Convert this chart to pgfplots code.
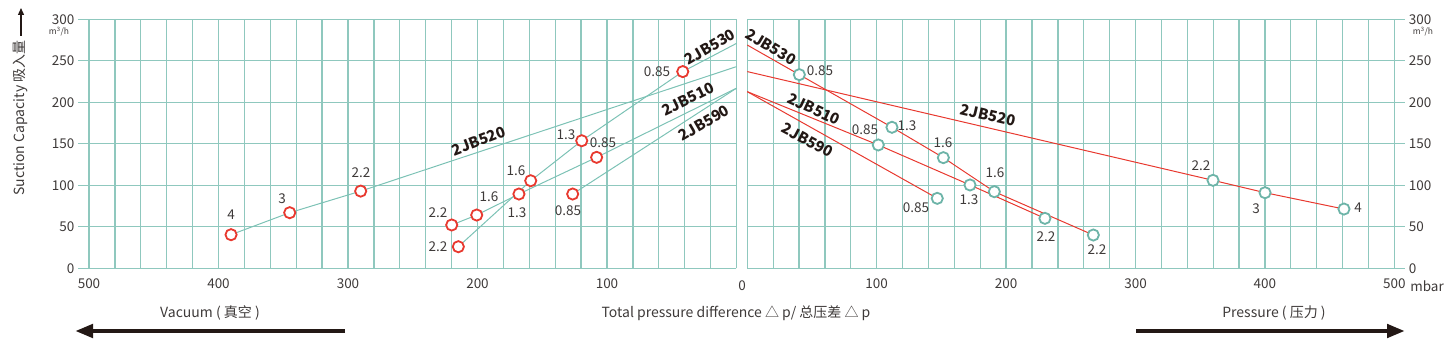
\documentclass[border=0pt]{standalone}
\usepackage{pgfplots}
\pgfplotsset{compat=1.18}
\usepackage{fontspec}
\setmainfont{Noto Sans CJK SC}
\usetikzlibrary{arrows.meta}
\definecolor{gridc}{HTML}{8FC8BE}
\definecolor{tealL}{HTML}{7CC2B5}
\definecolor{tealM}{HTML}{6DB4A8}
\definecolor{redL}{HTML}{E8392F}
\definecolor{txt}{HTML}{3E3A39}
\definecolor{dark}{HTML}{231815}
\pgfplotsset{
  panel/.style={
    scale only axis, height=249pt,
    xmin=0, xmax=508.5, ymin=0, ymax=300,
    axis line style={draw=none},
    xtick={0,100,...,500},
    minor xtick={20,40,60,80,120,140,160,180,220,240,260,280,320,340,360,380,420,440,460,480},
    ytick={0,50,100,150,200,250,300},
    yticklabels={0,50,100,150,200,250,300},
    xticklabels={,100,200,300,400,500},
    grid=both,
    major grid style={gridc, line width=1.25pt},
    minor grid style={gridc, line width=1.25pt},
    tick style={draw=none},
    major tick length=0pt, minor tick length=0pt,
    /pgf/number format/assume math mode=true,
    ticklabel style={font=\fontsize{13.5}{15}\selectfont, text=txt},
    xticklabel style={yshift=-7pt},
    clip=false,
  },
  lline/.style={tealL, line width=1pt, no markers},
  rline/.style={redL, line width=1pt, no markers},
  lmark/.style={only marks, mark=*, mark size=5.6pt, mark options={draw=redL, fill=white, line width=1.8pt}},
  rmark/.style={only marks, mark=*, mark size=5.6pt, mark options={draw=tealM, fill=white, line width=1.8pt}},
}
\tikzset{
  lbl/.style={font=\fontsize{13.5}{15}\selectfont, text=txt, inner sep=0pt},
  model/.style={font=\bfseries\fontsize{15}{17}\selectfont, text=dark, inner sep=0pt},
  ttl/.style={font=\fontsize{14}{16}\selectfont, text=txt, inner sep=0pt},
}
\begin{document}
\begin{tikzpicture}[x=1pt,y=-1pt]
\path[use as bounding box] (0,0) rectangle (1445,353);

% ---------------- left panel (vacuum) ----------------
\begin{axis}[panel, at={(78pt,-268.3pt)}, anchor=south west, width=658.5pt, x dir=reverse]
% 2JB520
\addplot[lline] coordinates {(390.3,40.5)(345,67)(290.2,93)(0,243)};
% 2JB530
\addplot[lline] coordinates {(214.8,26)(158.9,105.5)(119.5,153.7)(41.5,237)(0,271)};
% 2JB510
\addplot[lline] coordinates {(219.9,52.2)(200.6,64.2)(168,89.5)(108,133.7)(0,217)};
% 2JB590
\addplot[lline] coordinates {(126.5,89.5)(0,217)};
% markers
\addplot[lmark] coordinates {(390.3,40.5)(345,67)(290.2,93)};
\addplot[lmark] coordinates {(214.8,26)(158.9,105.5)(119.5,153.7)(41.5,237)};
\addplot[lmark] coordinates {(219.9,52.2)(200.6,64.2)(168,89.5)(108,133.7)};
\addplot[lmark] coordinates {(126.5,89.5)};
\end{axis}

% ---------------- right panel (pressure) ----------------
\begin{axis}[panel, at={(747.3pt,-268.3pt)}, anchor=south west, width=658pt,
  yticklabel pos=right]
% 2JB520
\addplot[rline] coordinates {(0,237)(359.9,106)(400.1,91.1)(461.1,71.4)};
% 2JB530
\addplot[rline] coordinates {(0,269)(40.2,233.3)(111.8,169.9)(151.5,133.3)(190.9,92.3)(267.4,40.1)};
% 2JB510
\addplot[rline] coordinates {(0,212.8)(101.2,148.6)(172.1,100.4)(230,60.2)};
% 2JB590
\addplot[rline] coordinates {(0,212.8)(146.8,84.3)};
% markers
\addplot[rmark] coordinates {(359.9,106)(400.1,91.1)(461.1,71.4)};
\addplot[rmark] coordinates {(40.2,233.3)(111.8,169.9)(151.5,133.3)(267.4,40.1)};
\addplot[rmark] coordinates {(101.2,148.6)(172.1,100.4)(190.9,92.3)(230,60.2)};
\addplot[rmark] coordinates {(146.8,84.3)};
\end{axis}

% extra tick texts
\node[lbl] at (742,286) {0};
\node[lbl] at (1427,286) {mbar};
\node[font=\fontsize{8.5}{9}\selectfont, text=txt, inner sep=0pt] at (59,32) {m\textsuperscript{3}/h};
\node[font=\fontsize{8.5}{9}\selectfont, text=txt, inner sep=0pt] at (1423,32) {m\textsuperscript{3}/h};

% point labels left
\node[lbl] at (231,215) {4};
\node[lbl] at (282,199) {3};
\node[lbl] at (361,173) {2.2};
\node[lbl] at (657,72) {0.85};
\node[lbl] at (566,135) {1.3};
\node[lbl] at (603,143) {0.85};
\node[lbl] at (516,171) {1.6};
\node[lbl] at (489,197) {1.6};
\node[lbl] at (517,213) {1.3};
\node[lbl] at (568,211) {0.85};
\node[lbl] at (438,213) {2.2};
\node[lbl] at (438,247) {2.2};
% point labels right
\node[lbl] at (820,71) {0.85};
\node[lbl] at (907,126) {1.3};
\node[lbl] at (865,130) {0.85};
\node[lbl] at (943,143) {1.6};
\node[lbl] at (995,173) {1.6};
\node[lbl] at (969,200) {1.3};
\node[lbl] at (916,208) {0.85};
\node[lbl] at (1046,237) {2.2};
\node[lbl] at (1097,250) {2.2};
\node[lbl] at (1201,166) {2.2};
\node[lbl] at (1256,209) {3};
\node[lbl] at (1358,208) {4};

% model labels
\node[model, rotate=21] at (479,141) {2JB520};
\node[model, rotate=30] at (710,47) {2JB530};
\node[model, rotate=26] at (688,99) {2JB510};
\node[model, rotate=30] at (704,123) {2JB590};
\node[model, rotate=-31] at (771,47) {2JB530};
\node[model, rotate=-25] at (814,109) {2JB510};
\node[model, rotate=-28] at (808,140) {2JB590};
\node[model, rotate=-13] at (988,115) {2JB520};

% axis titles
\node[ttl, rotate=90] at (20,118) {Suction Capacity 吸入量};
\draw[line width=1.3pt, dark, -{Triangle[length=7pt,width=6pt]}] (21,36) -- (21,8);
\node[ttl] at (210,313) {Vacuum ( 真空 )};
\node[ttl] at (736,313) {Total pressure difference △ p/ 总压差 △ p};
\node[ttl] at (1274,313) {Pressure ( 压力 )};
\draw[line width=4.5pt, dark, -{Triangle[length=18pt,width=13pt]}] (345,331) -- (75,331);
\draw[line width=4.5pt, dark, -{Triangle[length=18pt,width=13pt]}] (1136,331) -- (1405,331);
\end{tikzpicture}
\end{document}
